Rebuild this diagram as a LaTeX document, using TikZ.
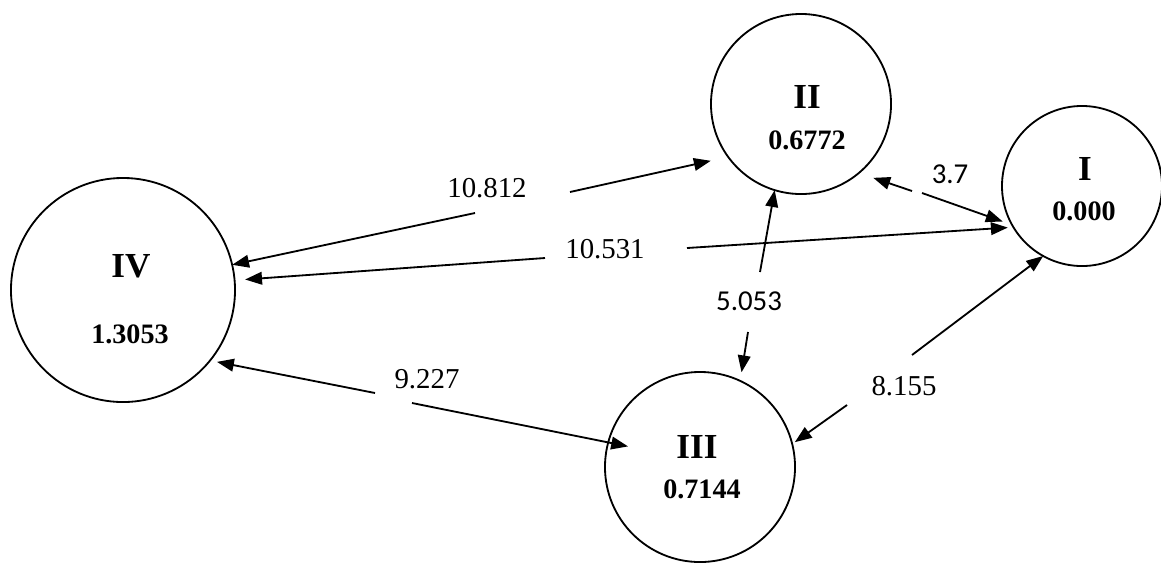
\documentclass[tikz,border=0pt]{standalone}
\usepackage{fontspec}
\setmainfont{Liberation Serif}
\newfontfamily\labsans{Carlito}
\usetikzlibrary{arrows.meta}

\begin{document}
\begin{tikzpicture}[x=0.025cm,y=-0.025cm,
  state/.style={circle,draw,line width=1.3pt,inner sep=0pt,outer sep=0pt},
  roman/.style={font=\fontsize{25}{25}\selectfont\bfseries,anchor=base,inner sep=0pt},
  weight/.style={font=\fontsize{20}{20}\selectfont\bfseries,anchor=base,inner sep=0pt},
  edgelab/.style={font=\fontsize{20.5}{20.5}\selectfont,anchor=base,inner sep=0pt},
  edgelabsf/.style={font=\fontsize{20.5}{20.5}\selectfont\labsans,anchor=base,inner sep=0pt},
  link/.style={line width=1.3pt,-{Triangle[length=12pt,width=9pt]}},
]
\useasboundingbox (0,0) rectangle (1161,562);

% the four groups
\node[state,minimum size=5.6cm]  (IV)  at (123,290) {};
\node[state,minimum size=4.5cm]  (II)  at (801,104) {};
\node[state,minimum size=4cm]    (I)   at (1082,186) {};
\node[state,minimum size=4.75cm] (III) at (700,467) {};

% group names and values
\node[roman]  (IVn)  at (131,277) {IV};
\node[weight] (IVv)  at (130,343) {1.3053};
\node[roman]  (IIn)  at (807,108) {II};
\node[weight] (IIv)  at (807,149) {0.6772};
\node[roman]  (In)   at (1085,180) {I};
\node[weight] (Iv)   at (1084,220) {0.000};
\node[roman]  (IIIn) at (697,458) {III};
\node[weight] (IIIv) at (702,498) {0.7144};

% distance labels
\node[edgelab]   (d1) at (487,197) {10.812};
\node[edgelab]   (d2) at (605,258) {10.531};
\node[edgelabsf] (d3) at (950,183) {3.7};
\node[edgelabsf] (d4) at (749,310) {5.053};
\node[edgelab]   (d5) at (427,388) {9.227};
\node[edgelab]   (d6) at (904,395) {8.155};

% inner ends of the two halves of each connector
\coordinate (g1a) at (475,213); \coordinate (g1b) at (570,192);
\coordinate (g2a) at (545,258); \coordinate (g2b) at (687,248);
\coordinate (g3a) at (912,191); \coordinate (g3b) at (922,193);
\coordinate (g4a) at (760,272); \coordinate (g4b) at (748,332);
\coordinate (g5a) at (375,393); \coordinate (g5b) at (412,403);
\coordinate (g6a) at (912,355); \coordinate (g6b) at (847,405);

% IV -- II
\draw[link] (g1a) -- (IV.13);
\draw[link,shorten >=12.7pt] (g1b) -- (II.216);
% IV -- I
\draw[link,shorten >=7.5pt] (g2a) -- (IV.5);
\draw[link,shorten >=4pt] (g2b) -- (I.211);
% II -- I
\draw[link,shorten >=10.8pt] (g3a) -- (II.310);
\draw[link,shorten >=7pt] (g3b) -- (I.209);
% II -- III
\draw[link] (g4a) -- (II.253);
\draw[link,shorten >=6.2pt] (g4b) -- (III.65);
% IV -- III
\draw[link,shorten >=5pt] (g5a) -- (IV.321);
\draw[link,shorten >=-14.4pt] (g5b) -- (III.165);
% I -- III
\draw[link] (g6a) -- (I.241);
\draw[link,shorten >=2.3pt] (g6b) -- (III.14);
\end{tikzpicture}
\end{document}
